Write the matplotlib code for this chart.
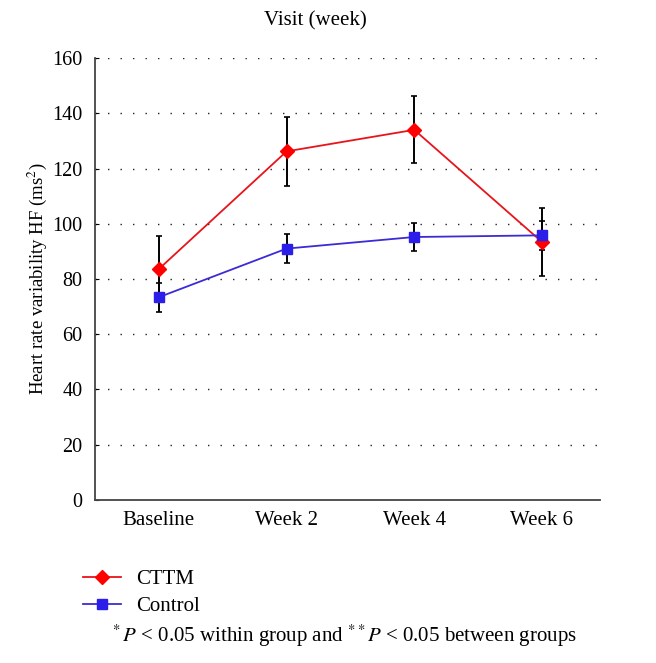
import matplotlib
matplotlib.use("Agg")
import matplotlib.pyplot as plt

# Data
visits = ["Baseline", "Week 2", "Week 4", "Week 6"]
cttm = [83.6, 126.2, 134.0, 93.4]
cttm_err = [12.0, 12.6, 12.1, 12.3]
control = [73.4, 91.0, 95.2, 95.8]
control_err = [5.2, 5.2, 5.2, 5.2]
yticks = [0, 20, 40, 60, 80, 100, 120, 140, 160]

plt.rcParams['font.family'] = ['Liberation Serif', 'DejaVu Serif']
plt.rcParams['mathtext.fontset'] = 'stix'

fig = plt.figure(figsize=(6.56, 6.63), dpi=100)
ax = fig.add_axes([0.1448, 0.2459, 0.77, 0.6666])

x = list(range(len(visits)))

# error bars under the lines
ax.errorbar(x, cttm, yerr=cttm_err, fmt='none', ecolor='black',
            elinewidth=1.4, capsize=2.5, capthick=1.2, zorder=2)
ax.errorbar(x, control, yerr=control_err, fmt='none', ecolor='black',
            elinewidth=1.4, capsize=2.5, capthick=1.2, zorder=2)

l1, = ax.plot(x, cttm, color='#e8141c', lw=1.3, marker='D', markersize=7,
              markerfacecolor='#ff0000', markeredgecolor='#ff0000', zorder=3, label='CTTM')
l2, = ax.plot(x, control, color='#3b2bd6', lw=1.3, marker='s', markersize=7.5,
              markerfacecolor='#2a1ee8', markeredgecolor='#2a1ee8', zorder=3, label='Control')

ax.set_xlim(-0.5, 3.455)
ax.set_ylim(0, 160)
ax.set_yticks(yticks)
ax.set_xticks(x)
ax.set_xticklabels(visits)

for y in yticks[1:]:
    ax.axhline(y, color='#222222', lw=1.0, linestyle=(0, (1, 8)), zorder=1)

for s in ['top', 'right']:
    ax.spines[s].set_visible(False)
for s in ['left', 'bottom']:
    ax.spines[s].set_color('#444444')
    ax.spines[s].set_linewidth(1.3)

ax.tick_params(axis='y', direction='in', length=3, width=0.8, labelsize=14.5, pad=9)
ax.tick_params(axis='x', length=0, labelsize=15, pad=8)

ax.set_ylabel(r"Heart rate variability HF (ms$^2$)", fontsize=13.5, labelpad=2)
fig.text(0.48, 0.968, "Visit (week)", ha='center', va='center', fontsize=15)

leg = fig.legend(handles=[l1, l2], loc='upper left', bbox_to_anchor=(0.126, 0.141),
                 frameon=False, fontsize=15, handlelength=1.85, handletextpad=0.7,
                 labelspacing=0.35, borderaxespad=0, borderpad=0)
fig.text(0.168, 0.041, r"$^*P$ < 0.05 within group and $^{**}P$ < 0.05 between groups",
         fontsize=15, va='center')

fig.savefig("out.png", dpi=100)
